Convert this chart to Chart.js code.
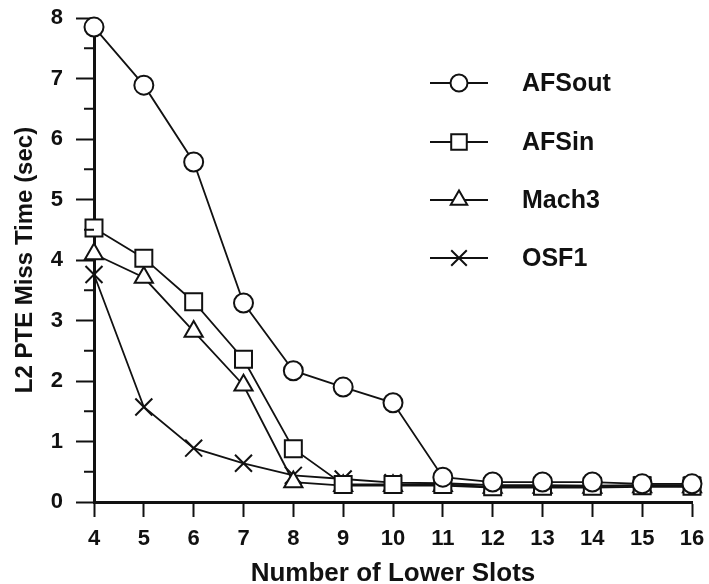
<!DOCTYPE html>
<html>
<head>
<meta charset="utf-8">
<script src="https://cdn.jsdelivr.net/npm/chart.js@4.4.0/dist/chart.umd.min.js"></script>
<style>
  html, body { margin: 0; padding: 0; background: #fff; }
  #wrap { width: 709px; height: 584px; position: relative; }
</style>
</head>
<body>
<div id="wrap"><canvas id="chart"></canvas></div>
<script>
// lower slot counts on the x axis
const slots = [4, 5, 6, 7, 8, 9, 10, 11, 12, 13, 14, 15, 16];
// L2 PTE miss time in seconds
const afsOut = [7.85, 6.89, 5.62, 3.29, 2.17, 1.90, 1.64, 0.41, 0.33, 0.33, 0.33, 0.30, 0.30];
const afsIn  = [4.53, 4.03, 3.31, 2.36, 0.88, 0.29, 0.29, 0.29, 0.25, 0.26, 0.26, 0.27, 0.26];
const mach3  = [4.10, 3.71, 2.82, 1.93, 0.33, 0.27, 0.27, 0.27, 0.24, 0.24, 0.24, 0.25, 0.25];
const osf1   = [3.76, 1.57, 0.89, 0.64, 0.44, 0.38, 0.32, 0.31, 0.28, 0.28, 0.27, 0.28, 0.28];
const seriesNames = ["AFSout", "AFSin", "Mach3", "OSF1"];
const yTicks = [0, 1, 2, 3, 4, 5, 6, 7, 8];

const ink = "#111";
const FONT = "'Liberation Sans', Arial, Helvetica, sans-serif";

const toPoints = (vals) => vals.map((v, i) => ({ x: slots[i], y: v }));

const markers = [
  { style: "circle", radius: 9.5 },
  { style: "rect", radius: 12 },
  { style: "triangle", radius: 10.5 },
  { style: "crossRot", radius: 12 },
];

const datasets = [afsOut, afsIn, mach3, osf1].map((vals, i) => ({
  label: seriesNames[i],
  data: toPoints(vals),
  borderColor: ink,
  borderWidth: 1.8,
  backgroundColor: "#fff",
  pointStyle: markers[i].style,
  pointRadius: markers[i].radius,
  pointBorderWidth: 2,
  pointBorderColor: ink,
  pointBackgroundColor: "#fff",
  tension: 0,
  clip: false,
}));

// short unlabelled ticks between the whole seconds
const minorTicks = {
  id: "minorTicks",
  afterDraw(chart) {
    const { ctx, chartArea, scales } = chart;
    ctx.save();
    ctx.strokeStyle = ink;
    ctx.lineWidth = 2;
    for (let i = 0; i < yTicks.length - 1; i++) {
      const y = scales.y.getPixelForValue(yTicks[i] + 0.5);
      ctx.beginPath();
      ctx.moveTo(chartArea.left - 10, y);
      ctx.lineTo(chartArea.left, y);
      ctx.stroke();
    }
    ctx.restore();
  },
};

// legend with a line through each marker, like the original figure
const lineLegend = {
  id: "lineLegend",
  afterDraw(chart) {
    const { ctx } = chart;
    const x0 = 430, x1 = 488, textX = 522;
    const rows = [83, 142, 200, 258];
    ctx.save();
    chart.data.datasets.forEach((ds, i) => {
      const y = rows[i];
      ctx.strokeStyle = ink;
      ctx.lineWidth = 1.8;
      ctx.beginPath();
      ctx.moveTo(x0, y);
      ctx.lineTo(x1, y);
      ctx.stroke();
      ctx.fillStyle = "#fff";
      ctx.lineWidth = 2;
      Chart.helpers.drawPoint(ctx, {
        pointStyle: ds.pointStyle,
        radius: ds.pointStyle === "rect" ? 11 : ds.pointRadius - 1,
        borderWidth: 2,
        rotation: 0,
      }, (x0 + x1) / 2, y);
      ctx.fillStyle = ink;
      ctx.font = "bold 25px " + FONT;
      ctx.textBaseline = "middle";
      ctx.textAlign = "left";
      ctx.fillText(ds.label, textX, y + 1);
    });
    ctx.restore();
  },
};

new Chart(document.getElementById("chart"), {
  type: "line",
  data: { datasets },
  plugins: [minorTicks, lineLegend],
  options: {
    responsive: true,
    maintainAspectRatio: false,
    animation: false,
    layout: { padding: { top: 18, right: 17, left: 0, bottom: 0 } },
    plugins: {
      legend: { display: false },
      tooltip: { enabled: false },
    },
    scales: {
      x: {
        type: "linear",
        min: 4,
        max: 16,
        afterFit: (scale) => {
          scale.height = 82;
          scale.paddingLeft = 0;
          scale.paddingRight = 0;
        },
        ticks: {
          stepSize: 1,
          color: ink,
          padding: 9,
          font: { family: FONT, size: 22, weight: "bold" },
        },
        grid: {
          drawOnChartArea: false,
          drawTicks: true,
          tickLength: 15,
          tickColor: ink,
          tickWidth: 2,
        },
        border: { display: true, color: ink, width: 3 },
        title: {
          display: true,
          text: "Number of Lower Slots",
          color: ink,
          padding: { top: 0, bottom: 0 },
          font: { family: FONT, size: 26, weight: "bold", lineHeight: 0.8 },
        },
      },
      y: {
        min: 0,
        max: 8,
        afterFit: (scale) => {
          scale.width = 94;
          scale.paddingTop = 0;
          scale.paddingBottom = 0;
        },
        ticks: {
          stepSize: 1,
          color: ink,
          padding: 13,
          font: { family: FONT, size: 22, weight: "bold" },
        },
        grid: {
          drawOnChartArea: false,
          drawTicks: true,
          tickLength: 18,
          tickColor: ink,
          tickWidth: 2,
        },
        border: { display: true, color: ink, width: 3 },
        title: {
          display: true,
          text: "L2 PTE Miss Time (sec)",
          color: ink,
          padding: { top: 11, bottom: 0 },
          font: { family: FONT, size: 24, weight: "bold" },
        },
      },
    },
  },
});
</script>
</body>
</html>
